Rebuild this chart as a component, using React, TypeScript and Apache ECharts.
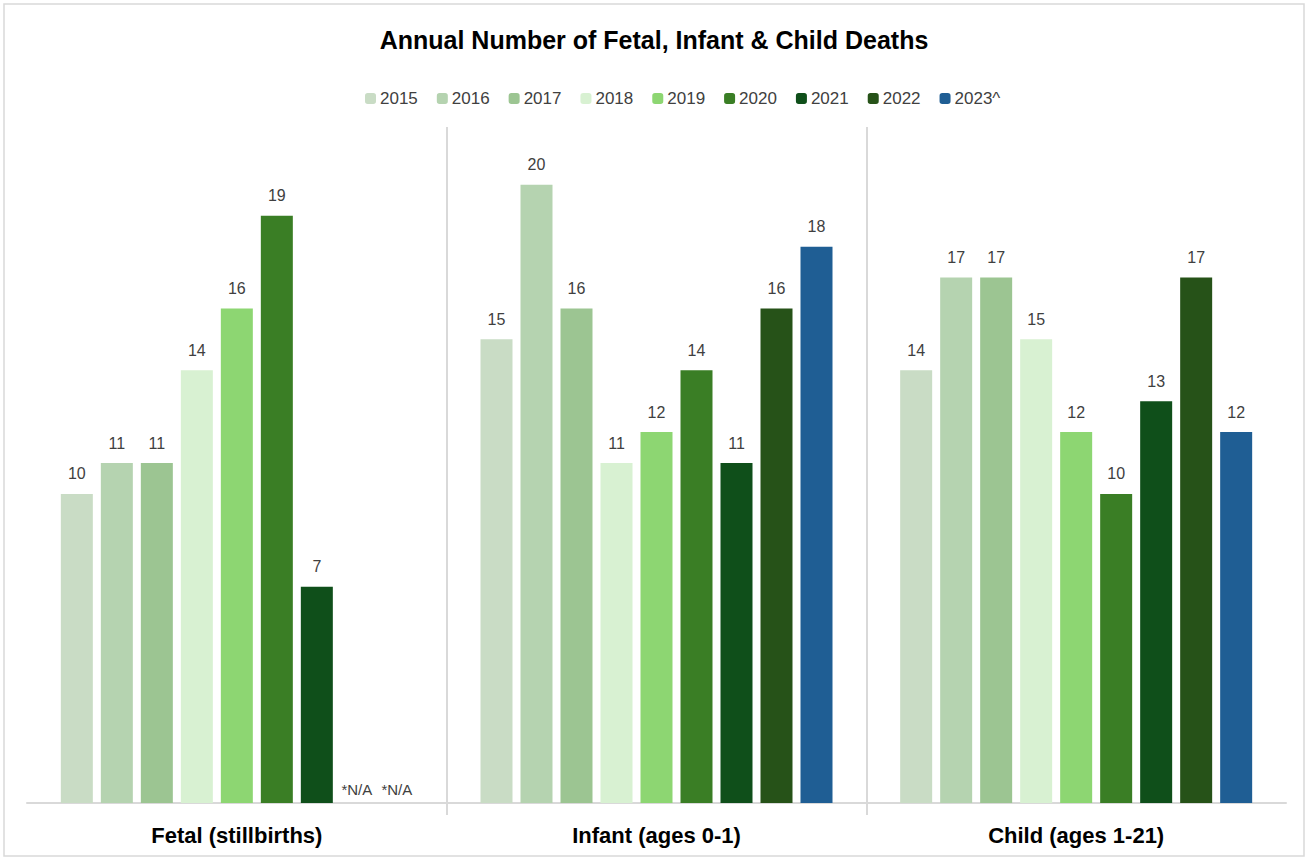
import React, { useEffect, useRef } from "react";
import * as echarts from "echarts";

const categories = ["Fetal (stillbirths)", "Infant (ages 0-1)", "Child (ages 1-21)"];
const years = ["2015", "2016", "2017", "2018", "2019", "2020", "2021", "2022", "2023^"];
const colors = ["#c9dcc5", "#b5d3b0", "#9cc592", "#d8f1d2", "#8dd672", "#3a7e25", "#0f4f1a", "#265218", "#1f5e94"];
// values per year: [fetal, infant, child]; null = N/A
const v2015 = [10, 15, 14];
const v2016 = [11, 20, 17];
const v2017 = [11, 16, 17];
const v2018 = [14, 11, 15];
const v2019 = [16, 12, 12];
const v2020 = [19, 14, 10];
const v2021 = [7, 11, 13];
const v2022 = [null, 16, 17];
const v2023 = [null, 18, 12];
const seriesValues = [v2015, v2016, v2017, v2018, v2019, v2020, v2021, v2022, v2023];
const naLabel = "*N/A";

export default function App() {
  const ref = useRef<HTMLDivElement>(null);
  useEffect(() => {
    if (!ref.current) return;
    const chart = echarts.init(ref.current, null, { renderer: "svg" });
    const font = "'Liberation Sans', Arial, sans-serif";
    const sepStyle = { color: "#d9d9d9", width: 2 };
    chart.setOption({
      animation: false,
      backgroundColor: "#ffffff",
      textStyle: { fontFamily: font },
      title: {
        text: "Annual Number of Fetal, Infant & Child Deaths",
        left: "center",
        top: 22,
        textStyle: { fontSize: 25, fontWeight: "bold", color: "#000000", fontFamily: font },
      },
      legend: {
        top: 85,
        left: 360,
        itemWidth: 11,
        itemHeight: 11,
        itemGap: 19,
        textStyle: { fontSize: 17, color: "#404040", padding: [0, 0, 0, -1] },
        data: years,
      },
      grid: [
        { left: 27, right: 22, top: 123, bottom: 56 },
        // separator grid: same horizontal extent, reaching 12px below the axis
        { left: 27, right: 22, top: 127, bottom: 44 },
      ],
      xAxis: [
        {
          type: "category",
          gridIndex: 0,
          data: categories,
          axisLine: { lineStyle: sepStyle },
          axisTick: { show: false },
          axisLabel: { fontSize: 22, fontWeight: "bold", color: "#000000", margin: 21 },
          splitLine: { show: false },
        },
        {
          type: "value",
          gridIndex: 1,
          min: 0,
          max: categories.length,
          interval: 1,
          axisLine: { show: false },
          axisTick: { show: false },
          axisLabel: { show: false },
          splitLine: { show: true, showMinLine: false, showMaxLine: false, lineStyle: sepStyle },
        },
      ],
      yAxis: [
        { type: "value", gridIndex: 0, min: 0, max: 22, show: false, splitLine: { show: false } },
        { type: "value", gridIndex: 1, show: false, splitLine: { show: false } },
      ],
      series: years.map((y, i) => ({
        name: y,
        type: "bar",
        xAxisIndex: 0,
        yAxisIndex: 0,
        barWidth: 32,
        barGap: "25%",
        itemStyle: { color: colors[i] },
        label: { show: true, position: "top", distance: 12, fontSize: 16, color: "#404040" },
        data: seriesValues[i].map((v) =>
          v === null ? { value: 0, label: { formatter: naLabel, distance: 6, fontSize: 15 } } : v
        ),
      })),
      graphic: [
        {
          type: "rect",
          shape: { x: 4, y: 4, width: 1300, height: 852 },
          style: { fill: "none", stroke: "#d9d9d9", lineWidth: 1.5 },
          silent: true,
        },
      ],
    });
    return () => chart.dispose();
  }, []);
  return <div ref={ref} style={{ position: "fixed", left: 0, top: 0, width: 1308, height: 859 }} />;
}
